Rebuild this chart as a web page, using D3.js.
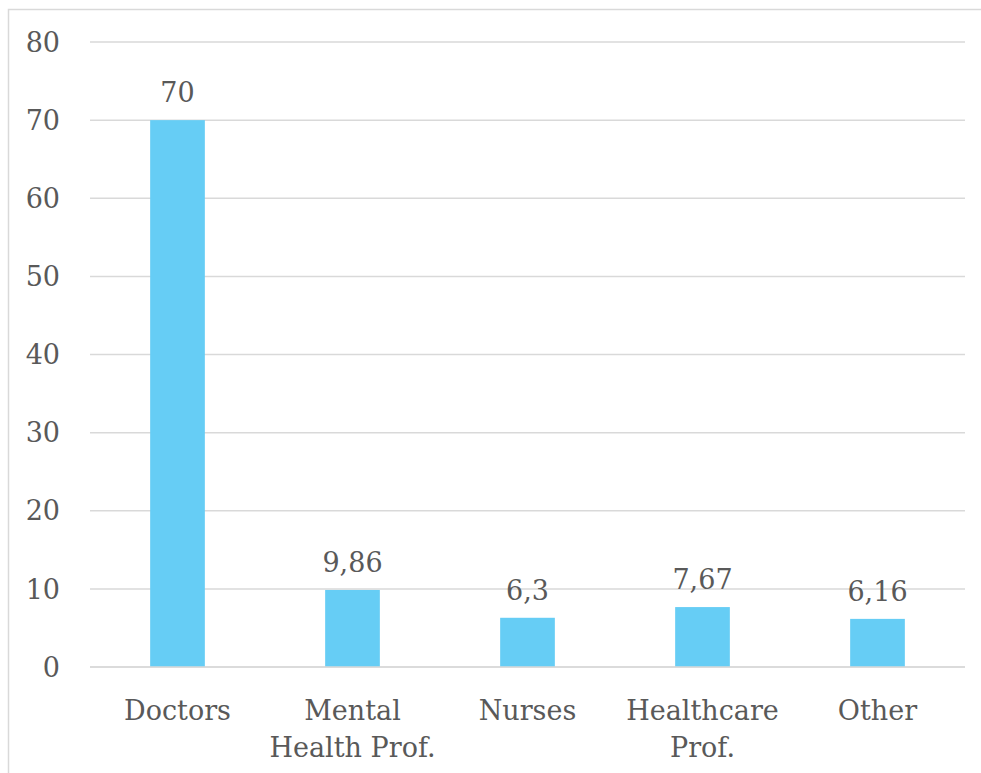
<!DOCTYPE html>
<html>
<head>
<meta charset="utf-8">
<script src="https://cdn.jsdelivr.net/npm/d3@7"></script>
<style>
  html, body { margin: 0; padding: 0; background: #fff; }
  svg { display: block; }
  text { font-family: "DejaVu Serif", serif; fill: #595959; }
</style>
</head>
<body>
<svg id="chart" width="981" height="773"></svg>
<script>
// Chart data
const categories = ["Doctors", "Mental Health Prof.", "Nurses", "Healthcare Prof.", "Other"];
const categoryLines = [["Doctors"], ["Mental", "Health Prof."], ["Nurses"], ["Healthcare", "Prof."], ["Other"]];
const values = [70, 9.86, 6.3, 7.67, 6.16];
const valueLabels = ["70", "9,86", "6,3", "7,67", "6,16"];
const yTicks = [0, 10, 20, 30, 40, 50, 60, 70, 80];

const svg = d3.select("#chart");
const fontSize = 27;

// Outer frame of the chart area
svg.append("rect")
  .attr("x", 8.5).attr("y", 9.5)
  .attr("width", 1000).attr("height", 1000)
  .attr("fill", "none")
  .attr("stroke", "#d9d9d9")
  .attr("stroke-width", 1.5);

const plot = { left: 90, right: 965, top: 42, bottom: 667 };

const x = d3.scaleBand()
  .domain(categories)
  .range([plot.left, plot.right]);

const y = d3.scaleLinear()
  .domain([0, 80])
  .range([plot.bottom, plot.top]);

const barWidth = x.bandwidth() * 0.3125;

// Horizontal gridlines
svg.append("g")
  .selectAll("line")
  .data(yTicks)
  .join("line")
  .attr("x1", plot.left).attr("x2", plot.right)
  .attr("y1", d => y(d)).attr("y2", d => y(d))
  .attr("stroke", "#d9d9d9")
  .attr("stroke-width", 1.5);

// Y tick labels
svg.append("g")
  .selectAll("text")
  .data(yTicks)
  .join("text")
  .attr("x", 60)
  .attr("y", d => y(d))
  .attr("dy", "0.36em")
  .attr("text-anchor", "end")
  .attr("font-size", fontSize)
  .text(d => d);

// Bars
svg.append("g")
  .selectAll("rect")
  .data(values)
  .join("rect")
  .attr("x", (d, i) => x(categories[i]) + (x.bandwidth() - barWidth) / 2)
  .attr("y", d => y(d))
  .attr("width", barWidth)
  .attr("height", d => y(0) - y(d))
  .attr("fill", "#66cdf5");

// Baseline axis drawn over the bars
svg.append("line")
  .attr("x1", plot.left).attr("x2", plot.right)
  .attr("y1", y(0)).attr("y2", y(0))
  .attr("stroke", "#d9d9d9")
  .attr("stroke-width", 1.5);

// Value labels
svg.append("g")
  .selectAll("text")
  .data(values)
  .join("text")
  .attr("x", (d, i) => x(categories[i]) + x.bandwidth() / 2)
  .attr("y", d => y(d) - 18)
  .attr("text-anchor", "middle")
  .attr("font-size", fontSize)
  .text((d, i) => valueLabels[i]);

// Category labels (wrapped)
const catG = svg.append("g")
  .selectAll("text")
  .data(categories)
  .join("text")
  .attr("x", d => x(d) + x.bandwidth() / 2)
  .attr("y", 720)
  .attr("text-anchor", "middle")
  .attr("font-size", fontSize);

catG.each(function(d, i) {
  const t = d3.select(this);
  categoryLines[i].forEach((line, j) => {
    t.append("tspan")
      .attr("x", x(d) + x.bandwidth() / 2)
      .attr("y", 720 + j * 37)
      .text(line);
  });
});
</script>
</body>
</html>
